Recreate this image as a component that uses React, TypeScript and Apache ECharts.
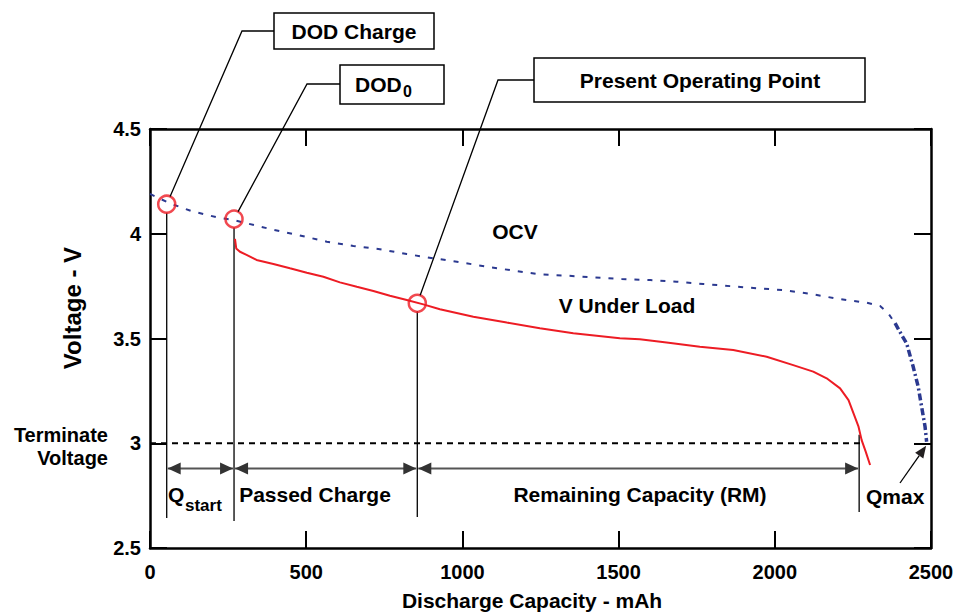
import React, { useEffect, useRef } from "react";
import * as echarts from "echarts";

// ---- data ----
const X_MIN = 0;
const X_MAX = 2500;
const X_STEP = 500;
const Y_MIN = 2.5;
const Y_MAX = 4.5;
const Y_STEP = 0.5;

const OCV_MAIN: [number, number][] = [
  [0, 4.19], [64, 4.145], [133, 4.108], [218, 4.077], [266, 4.066], [309, 4.05],
  [389, 4.021], [474, 3.994], [566, 3.962], [651, 3.942], [736, 3.926], [822, 3.903],
  [907, 3.883], [992, 3.864], [1077, 3.843], [1163, 3.824], [1248, 3.806], [1334, 3.8],
  [1419, 3.792], [1510, 3.784], [1601, 3.779], [1686, 3.771], [1771, 3.76], [1857, 3.75],
  [1942, 3.74], [2027, 3.731], [2118, 3.712], [2203, 3.689], [2294, 3.671], [2337, 3.655],
  [2363, 3.62], [2385, 3.573],
];
const OCV_TAIL: [number, number][] = [
  [2385, 3.573], [2406, 3.517], [2422, 3.477], [2443, 3.365], [2459, 3.27],
  [2470, 3.174], [2481, 3.079], [2486, 3.007],
];
const V_LOAD: [number, number][] = [
  [272, 3.975], [276, 3.93], [288, 3.914], [309, 3.899], [341, 3.875], [395, 3.856],
  [448, 3.835], [502, 3.814], [555, 3.795], [608, 3.768], [662, 3.747], [715, 3.727],
  [768, 3.704], [822, 3.684], [875, 3.663], [928, 3.64], [1035, 3.604], [1142, 3.576],
  [1248, 3.549], [1355, 3.525], [1504, 3.501], [1568, 3.496], [1660, 3.48], [1760, 3.461],
  [1867, 3.445], [1974, 3.413], [2059, 3.373], [2123, 3.342], [2166, 3.31], [2209, 3.262],
  [2236, 3.206], [2252, 3.143], [2268, 3.079], [2278, 3.015], [2291, 2.96], [2305, 2.896],
];
const TERMINATE_V = 3.0;
const TERMINATE_END = 2283;
const MARKERS: [number, number][] = [[53.5, 4.141], [269, 4.07], [855.6, 3.668]];
const GUIDE_X = [53.5, 269, 855.6, 2270];
const GUIDE_TOP = [4.1, 4.03, 3.63, 3.04];
const GUIDE_BOTTOM = [2.643, 2.629, 2.648, 2.672];
const ARROW_V = 2.88;
const QMAX_POINT: [number, number] = [2486, 3.007];

const FONT = "'Liberation Sans', Arial, Helvetica, sans-serif";
const BLUE = "#2B3990";
const RED = "#ED1C24";

export default function App() {
  const ref = useRef<HTMLDivElement>(null);

  useEffect(() => {
    if (!ref.current) return;
    const chart = echarts.init(ref.current, undefined, { renderer: "svg" });

    const axisLine = { show: true, onZero: false, lineStyle: { color: "#000", width: 2.5 } };
    const axisTick = { show: true, inside: true, length: 17, lineStyle: { color: "#000", width: 2 } };
    const labelStyle = { fontSize: 20, fontWeight: "bold", color: "#000", fontFamily: FONT };

    const guideSeries = GUIDE_X.map((gx, i) => ({
      type: "line",
      data: [[gx, GUIDE_TOP[i]], [gx, GUIDE_BOTTOM[i]]],
      symbol: "none",
      lineStyle: { color: "#000", width: 1.3 },
      z: 3,
      silent: true,
    }));

    chart.setOption({
      animation: false,
      grid: { left: 150, top: 129, right: 26, bottom: 64 },
      xAxis: [
        {
          type: "value", min: X_MIN, max: X_MAX, interval: X_STEP, position: "bottom",
          axisLine, axisTick,
          axisLabel: { ...labelStyle, margin: 14, formatter: (v: number) => String(v) },
          splitLine: { show: false },
        },
        {
          type: "value", min: X_MIN, max: X_MAX, interval: X_STEP, position: "top",
          axisLine, axisTick, axisLabel: { show: false }, splitLine: { show: false },
        },
      ],
      yAxis: [
        {
          type: "value", min: Y_MIN, max: Y_MAX, interval: Y_STEP, position: "left",
          axisLine, axisTick,
          axisLabel: { ...labelStyle, margin: 9, formatter: (v: number) => String(v) },
          splitLine: { show: false },
        },
        {
          type: "value", min: Y_MIN, max: Y_MAX, interval: Y_STEP, position: "right",
          axisLine, axisTick, axisLabel: { show: false }, splitLine: { show: false },
        },
      ],
      series: [
        {
          type: "line", data: OCV_MAIN, symbol: "none",
          lineStyle: { color: BLUE, width: 2, type: [5, 8] }, z: 4,
        },
        {
          type: "line", data: OCV_TAIL, symbol: "none",
          lineStyle: { color: BLUE, width: 3.5, type: [7, 3, 2, 3] }, z: 4,
        },
        {
          type: "line", data: V_LOAD, symbol: "none",
          lineStyle: { color: RED, width: 2 }, z: 5,
        },
        {
          type: "line", data: [[X_MIN, TERMINATE_V], [TERMINATE_END, TERMINATE_V]], symbol: "none",
          lineStyle: { color: "#000", width: 2, type: [6, 5] }, z: 3,
        },
        ...guideSeries,
        {
          type: "scatter", data: MARKERS, symbol: "circle", symbolSize: 17,
          itemStyle: { color: "rgba(255,255,255,0)", borderColor: RED, borderWidth: 2.5 },
          z: 6,
        },
      ],
    });

    const px = (p: [number, number]) =>
      chart.convertToPixel({ xAxisIndex: 0, yAxisIndex: 0 }, p) as number[];

    const graphic: any[] = [];
    const textEl = (text: string, x: number, y: number, size: number, align = "center", extra: any = {}) => ({
      type: "text", x, y, z: 20, ...extra,
      style: { text, fontSize: size, fontWeight: "bold", fontFamily: FONT, fill: "#000", align, verticalAlign: "middle" },
    });

    // callout boxes
    const boxes = [
      { x: 274, y: 13, w: 160, h: 36, knee: 242, ky: 31 },
      { x: 340, y: 65, w: 104, h: 39, knee: 307, ky: 84 },
      { x: 534, y: 58, w: 331, h: 44, knee: 498, ky: 80 },
    ];
    boxes.forEach((b, i) => {
      const c = px(MARKERS[i]);
      const dx = b.knee - c[0];
      const dy = b.ky - c[1];
      const len = Math.hypot(dx, dy);
      const end = [c[0] + (dx / len) * 8.5, c[1] + (dy / len) * 8.5];
      graphic.push({
        type: "polyline", z: 10,
        shape: { points: [[b.x, b.ky], [b.knee, b.ky], end] },
        style: { stroke: "#000", lineWidth: 1.3, fill: null },
      });
      graphic.push({
        type: "rect", z: 11,
        shape: { x: b.x, y: b.y, width: b.w, height: b.h },
        style: { fill: "#fff", stroke: "#000", lineWidth: 1.5 },
      });
    });
    graphic.push(textEl("DOD Charge", 354, 31, 21));
    graphic.push(textEl("DOD", 355, 84, 21, "left"));
    graphic.push(textEl("0", 403, 91, 16, "left"));
    graphic.push(textEl("Present Operating Point", 700, 80, 21));

    // curve labels
    graphic.push(textEl("OCV", 515, 231, 21));
    graphic.push(textEl("V Under Load", 627, 305, 21));

    // double arrows
    const arrowColor = "#333";
    const bounds = GUIDE_X;
    for (let i = 0; i < bounds.length - 1; i++) {
      const a = px([bounds[i], ARROW_V]);
      const b = px([bounds[i + 1], ARROW_V]);
      const y = a[1];
      const ax = a[0] + 1;
      const bx = b[0] - 1;
      graphic.push({
        type: "line", z: 9,
        shape: { x1: ax, y1: y, x2: bx, y2: y },
        style: { stroke: "#555", lineWidth: 2 },
      });
      graphic.push({
        type: "polygon", z: 9,
        shape: { points: [[ax, y], [ax + 13, y - 6], [ax + 13, y + 6]] },
        style: { fill: arrowColor },
      });
      graphic.push({
        type: "polygon", z: 9,
        shape: { points: [[bx, y], [bx - 13, y - 6], [bx - 13, y + 6]] },
        style: { fill: arrowColor },
      });
    }

    // Qmax arrow
    const q = px(QMAX_POINT);
    const tip = [q[0] - 0.5, q[1] + 4];
    const start = [900, 483];
    const ux = tip[0] - start[0];
    const uy = tip[1] - start[1];
    const ul = Math.hypot(ux, uy);
    const nx = ux / ul, ny = uy / ul;
    const base = [tip[0] - nx * 12, tip[1] - ny * 12];
    graphic.push({
      type: "line", z: 9,
      shape: { x1: start[0], y1: start[1], x2: base[0], y2: base[1] },
      style: { stroke: "#000", lineWidth: 1.3 },
    });
    graphic.push({
      type: "polygon", z: 9,
      shape: { points: [tip, [base[0] - ny * 5, base[1] + nx * 5], [base[0] + ny * 5, base[1] - nx * 5]] },
      style: { fill: "#231F20" },
    });

    // region labels
    graphic.push(textEl("Q", 168, 494, 21, "left"));
    graphic.push(textEl("start", 185, 505, 17, "left"));
    graphic.push(textEl("Passed Charge", 315, 494, 21));
    graphic.push(textEl("Remaining Capacity (RM)", 640, 494, 21));
    graphic.push(textEl("Qmax", 866, 496, 21, "left"));

    // terminate voltage label
    graphic.push(textEl("Terminate", 108, 435, 20, "right"));
    graphic.push(textEl("Voltage", 108, 458, 20, "right"));

    // axis names
    graphic.push(textEl("Voltage - V", 72, 308, 24, "center", { rotation: Math.PI / 2 }));
    graphic.push(textEl("Discharge Capacity - mAh", 532, 600, 21));

    chart.setOption({ graphic });

    return () => chart.dispose();
  }, []);

  return (
    <div
      ref={ref}
      style={{ position: "fixed", left: 0, top: 0, width: 957, height: 612, background: "#fff" }}
    />
  );
}
